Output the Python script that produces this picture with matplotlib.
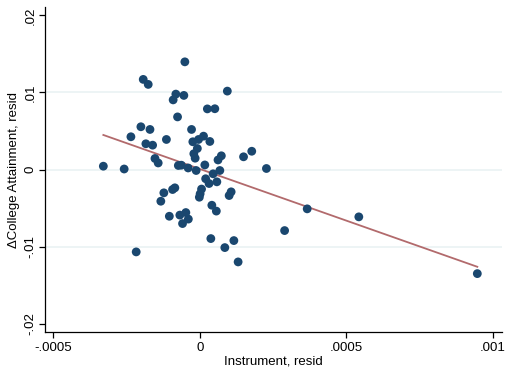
import numpy as np
import matplotlib
matplotlib.use("Agg")
import matplotlib.pyplot as plt

plt.rcParams["font.family"] = ["Liberation Sans", "DejaVu Sans"]

# Residualized instrument (x) and change in college attainment (y)
instrument_resid = [
    -0.000329, -0.000258, -0.000235, -0.000201, -0.000193, -0.000176, -0.000170,
    -0.000184, -0.000161, -0.000153, -0.000142, -0.000114, -0.0000511, -0.0000818,
    -0.000091, -0.0000545, -0.000076, 0.0000937, 0.0000256, 0.0000511, -0.0000283,
    0.0000126, -0.0000044, -0.0000239, 0.0000341, -0.0000085, -0.0000205, -0.000016,
    0.0000733, 0.000062, 0.000149, 0.000177, 0.000227, 0.000017, -0.0000733,
    -0.000063, -0.0000399, -0.0000126, 0.0000453, 0.0000682, 0.0000198, 0.0000314,
    0.000058, 0.0000058, 0.000001, -0.0000017, 0.0001067, 0.0000999, 0.0000409,
    0.0000562, -0.0001227, -0.000093, -0.0000852, -0.000133, -0.000104, -0.0000682,
    -0.0000477, -0.000059, -0.0000392, 0.0000375, 0.000116, 0.0000852, 0.0001305,
    0.000289, 0.000366, 0.000542, 0.000946, -0.000217,
]
college_resid = [
    0.00043, 0.000065, 0.00425, 0.00555, 0.0117, 0.01105, 0.0052,
    0.00334, 0.00316, 0.00143, 0.00085, 0.0039, 0.01398, 0.00979,
    0.00904, 0.00962, 0.00683, 0.01018, 0.00787, 0.00789, 0.0052,
    0.00433, 0.0039, 0.0036, 0.00364, 0.00273, 0.00205, 0.00147,
    0.00178, 0.00124, 0.00165, 0.00237, 0.00013, 0.00059, 0.00052,
    0.00056, 0.0002, -0.00013, -0.00056, -0.00013, -0.0012, -0.00182,
    -0.0016, -0.00254, -0.00316, -0.0036, -0.0029, -0.00338, -0.00464,
    -0.0054, -0.00303, -0.0026, -0.00238, -0.00412, -0.00607, -0.00592,
    -0.00559, -0.00702, -0.00644, -0.00897, -0.00923, -0.01014, -0.012,
    -0.00793, -0.00511, -0.00615, -0.01352, -0.0107,
]

x_ticks = [-0.0005, 0, 0.0005, 0.001]
x_tick_labels = ["-.0005", "0", ".0005", ".001"]
y_ticks = [-0.02, -0.01, 0, 0.01, 0.02]
y_tick_labels = ["-.02", "-.01", "0", ".01", ".02"]

x = np.array(instrument_resid)
y = np.array(college_resid)

# Linear fit over the range of the data
slope, intercept = np.polyfit(x, y, 1)
x_fit = np.array([x.min(), x.max()])
y_fit = intercept + slope * x_fit

fig = plt.figure(figsize=(5.06, 3.69), dpi=100)
ax = fig.add_axes([0.0883, 0.1003, 0.9037, 0.8807])

# Gridlines only at the inner ticks
for yt in y_ticks[1:-1]:
    ax.axhline(yt, color="#eaf2f3", linewidth=1.2, zorder=0)

ax.scatter(x, y, s=40, color="#1a476f", edgecolors="none", zorder=3)
ax.plot(x_fit, y_fit, color="#b26a6c", linewidth=1.3, zorder=2)

ax.set_xlim(-0.000529, 0.00103)
ax.set_ylim(-0.0211, 0.0211)
ax.set_xticks(x_ticks)
ax.set_xticklabels(x_tick_labels)
ax.set_yticks(y_ticks)
ax.set_yticklabels(y_tick_labels, rotation=90, va="center")

ax.spines["top"].set_visible(False)
ax.spines["right"].set_visible(False)
ax.spines["left"].set_linewidth(0.9)
ax.spines["bottom"].set_linewidth(0.9)
ax.tick_params(axis="both", length=4, width=0.9, labelsize=9.5, pad=3)
ax.tick_params(axis="y", pad=2)

ax.set_xlabel("Instrument, resid", fontsize=9.5, labelpad=1)
ax.set_ylabel("\u0394College Attainment, resid", fontsize=9.5, labelpad=3)

plt.savefig("out.png", dpi=100)
